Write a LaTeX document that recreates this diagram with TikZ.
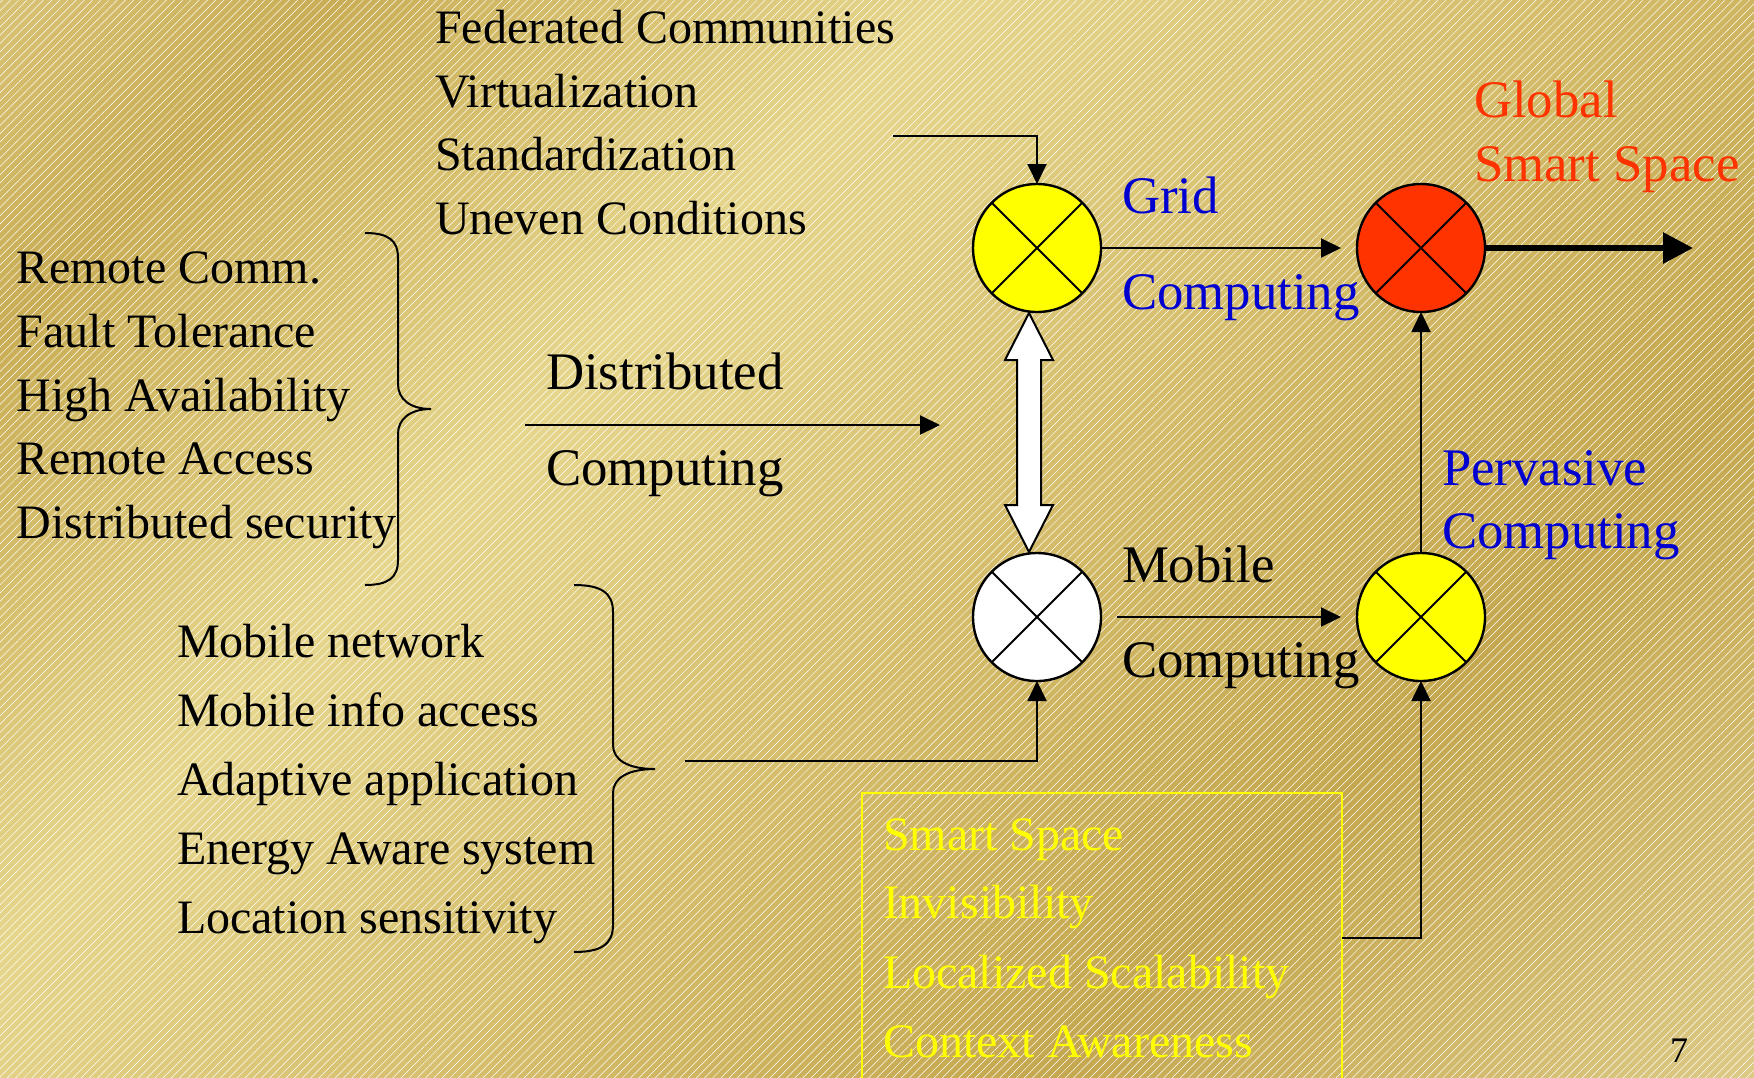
\documentclass[tikz,border=0pt]{standalone}
\usepackage{fontspec}
\setmainfont{Liberation Serif}
\usetikzlibrary{arrows.meta,calc,patterns.meta}

% background band colours
\definecolor{bgA}{HTML}{D8C274}
\definecolor{bgB}{HTML}{C9AD55}
\definecolor{bgC}{HTML}{E6D68C}
\definecolor{bgD}{HTML}{D2B966}
\definecolor{bgE}{HTML}{C4A74E}
\definecolor{bgF}{HTML}{DDCA86}
\definecolor{ovred}{RGB}{255,51,0}
\definecolor{labblue}{RGB}{0,0,208}
\definecolor{puryel}{RGB}{255,255,0}

\begin{document}
\begin{tikzpicture}[x=0.5pt,y=-0.5pt,
  every node/.style={inner sep=0pt, outer sep=0pt},
  listtext/.style={anchor=base west, font=\fontsize{24pt}{28pt}\selectfont},
  labeltext/.style={anchor=base west, font=\fontsize{26.4pt}{30pt}\selectfont},
  mixer/.style={circle, draw=black, line width=1.2pt, minimum size=64pt,
    path picture={\draw[line width=1pt]
      (path picture bounding box.north west) -- (path picture bounding box.south east)
      (path picture bounding box.north east) -- (path picture bounding box.south west);}},
  flow/.style={line width=1pt, -{Triangle[length=10pt,width=9.5pt]}},
  bracepath/.style={line width=1pt},
]
\useasboundingbox (0,0) rectangle (1754,1077);

% gold background: diagonal colour bands plus fine hairline texture
\begin{scope}
  \clip (0,0) rectangle (1754,1077);
  \foreach \sa/\sb/\ca/\cb in {0/330/bgA/bgB, 330/950/bgB/bgC, 950/1650/bgC/bgD,
                              1650/2130/bgD/bgE, 2130/2840/bgE/bgF}{
    \pgfmathtruncatemacro\nseg{ceil((\sb-\sa)/8)}
    \pgfmathsetmacro\stp{(\sb-\sa)/\nseg}
    \foreach \j in {1,...,\nseg}{
      \pgfmathsetmacro\bandlo{\sa+(\j-1)*\stp}
      \pgfmathsetmacro\bandhi{\bandlo+\stp+1.5}
      \pgfmathtruncatemacro\bandmix{100*(\j-0.5)/\nseg}
      \fill[\cb!\bandmix!\ca] (\bandlo,0) -- (\bandhi,0) -- (\bandhi-1100,1100)
        -- (\bandlo-1100,1100) -- cycle;
    }
  }
  \fill[pattern={Lines[angle=45,distance=2.9pt,line width=0.25pt]}, pattern color=white,
        fill opacity=0.06] (0,0) rectangle (1754,1077);
\end{scope}

% mixing junctions
\node[mixer, fill=puryel] (grid)   at (1037,248) {};
\node[mixer, fill=ovred]  (global) at (1421,248) {};
\node[mixer, fill=white]  (mobile) at (1037,617) {};
\node[mixer, fill=puryel] (perv)   at (1421,617) {};

% top list
\node[listtext] (fed)  at (435,43)  {Federated Communities};
\node[listtext] (virt) at (435,107) {Virtualization};
\node[listtext] (std)  at (435,170) {Standardization};
\node[listtext] (unev) at (435,234) {Uneven Conditions};

% distributed computing features
\node[listtext] (rcomm) at (17,283) {Remote Comm.};
\node[listtext] (fault) at (17,347) {Fault Tolerance};
\node[listtext] (avail) at (17,411) {High Availability};
\node[listtext] (racc)  at (17,474) {Remote Access};
\node[listtext] (dsec)  at (17,538) {Distributed security};

% mobile computing features
\node[listtext] (mnet)  at (177,657) {Mobile network};
\node[listtext] (minfo) at (177,726) {Mobile info access};
\node[listtext] (adapt) at (177,795) {Adaptive application};
\node[listtext] (energy) at (177,864) {Energy Aware system};
\node[listtext] (loc)   at (177,933) {Location sensitivity};

% pervasive computing features box
\node[draw=puryel, line width=1pt, anchor=north west, minimum width=240pt,
      minimum height=144.5pt] (box) at (862,793) {};
\node[listtext, text=puryel] (smart) at (883,850)  {Smart Space};
\node[listtext, text=puryel] (invis) at (883,918)  {Invisibility};
\node[listtext, text=puryel] (lscal) at (883,988)  {Localized Scalability};
\node[listtext, text=puryel] (ctx)   at (883,1057) {Context Awareness};

% stage labels
\node[labeltext] (distA) at (546,389) {Distributed};
\node[labeltext] (distB) at (546,485) {Computing};
\node[labeltext, text=labblue] (gridA) at (1122,213) {Grid};
\node[labeltext, text=labblue] (gridB) at (1122,309) {Computing};
\node[labeltext] (mobA) at (1122,582) {Mobile};
\node[labeltext] (mobB) at (1122,677) {Computing};
\node[labeltext, text=labblue] (pervA) at (1442,485) {Pervasive};
\node[labeltext, text=labblue] (pervB) at (1442,548) {Computing};
\node[labeltext, text=ovred] (globA) at (1474,117) {Global};
\node[labeltext, text=ovred] (globB) at (1474,181) {Smart Space};

\node[anchor=base west, font=\fontsize{18pt}{20pt}\selectfont] (pageno) at (1670,1062) {7};

% curly braces
\draw[bracepath] (365,233) .. controls (388,233) and (398,240) .. (398,258)
  -- (398,384) .. controls (398,399) and (410,409) .. (431,409)
  .. controls (410,409) and (398,419) .. (398,434)
  -- (398,560) .. controls (398,578) and (388,585) .. (365,585);
\draw[bracepath] (574,585) .. controls (600,585) and (613,592) .. (613,612)
  -- (613,745) .. controls (613,760) and (628,769) .. (655,769)
  .. controls (628,769) and (613,778) .. (613,793)
  -- (613,925) .. controls (613,945) and (600,952) .. (574,952);

% connectors
\coordinate (topin) at (893,136);
\coordinate (distin) at (525,425);
\coordinate (distout) at (940,425);
\coordinate (mobin) at (685,761);
\coordinate (gout) at (1693,248);

\draw[flow] (topin) -| (grid.north);
\draw[flow] (distin) -- (distout);
\draw[flow] (grid.east) -- ([xshift=-8pt]global.west);
\draw[flow] ([xshift=8pt]mobile.east) -- ([xshift=-8pt]perv.west);
\draw[flow] (perv.north) -- (global.south);
\draw[flow] (mobin) -| (mobile.south);
\draw[flow] (box.east) -| (perv.south);
\draw[line width=3pt, -{Triangle[length=15pt,width=15pt]}] (global.east) -- (gout);

% two-way hollow arrow between grid and mobile
\coordinate (dtop) at ($(grid.south)+(-8,1)$);
\coordinate (dbot) at ($(mobile.north)+(-8,-1)$);
\draw[line width=1pt, fill=white] (dtop) -- ++(24,47) -- ++(-12,0)
  -- ($(dbot)+(12,-47)$) -- ++(12,0) -- (dbot) -- ++(-24,-47) -- ++(12,0)
  -- ($(dtop)+(-12,47)$) -- ++(-12,0) -- cycle;
\end{tikzpicture}
\end{document}
